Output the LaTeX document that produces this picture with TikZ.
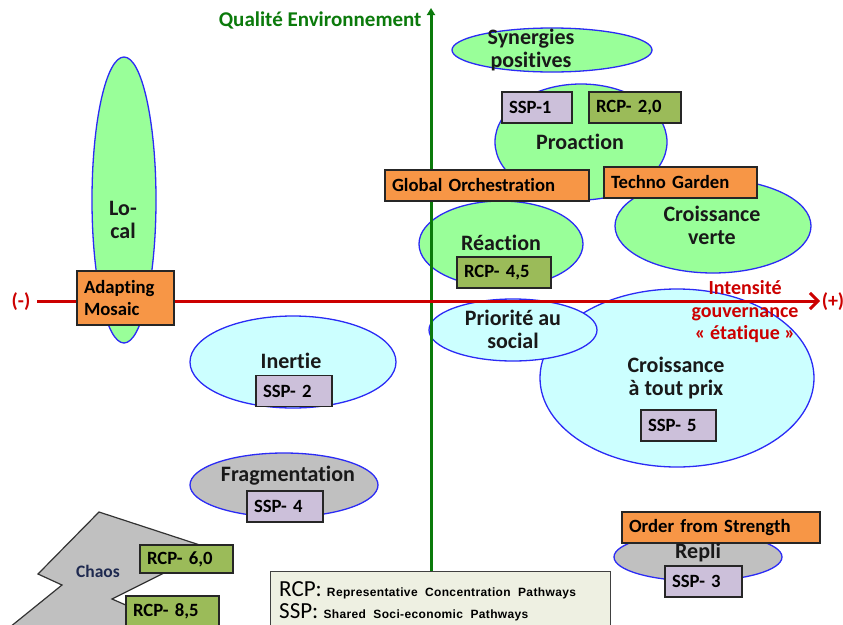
\documentclass[tikz,border=0pt]{standalone}
\usepackage{fontspec}
\setmainfont{Carlito}[Ligatures=NoCommon]
\newfontfamily\legendsans{Liberation Sans}[LetterSpace=3]
\usetikzlibrary{shapes.geometric,arrows.meta}

\definecolor{leafgreen}{HTML}{99FF99}
\definecolor{palecyan}{HTML}{CCFFFF}
\definecolor{fogray}{HTML}{C0C0C0}
\definecolor{rimblue}{HTML}{2B2BF5}
\definecolor{boxorange}{HTML}{F79646}
\definecolor{boxolive}{HTML}{9BBB59}
\definecolor{boxlilac}{HTML}{CCC0DA}
\definecolor{axisgreen}{HTML}{0B7A0B}
\definecolor{axisred}{HTML}{CC0000}
\definecolor{legendfill}{HTML}{EEF0E2}
\definecolor{chaosink}{HTML}{1F2A50}

\begin{document}
\begin{tikzpicture}[x=1pt,y=-1pt,
  zone/.style={ellipse, draw=rimblue, line width=1.3pt, inner sep=0pt},
  greenzone/.style={zone, fill=leafgreen},
  cyanzone/.style={zone, fill=palecyan},
  grayzone/.style={zone, fill=fogray},
  zonetext/.style={font=\fontsize{22}{23}\selectfont\bfseries, align=center, text=black!90},
  tag/.style={draw=black!85, line width=1.4pt, inner xsep=7pt, inner ysep=0pt,
    font=\fontsize{18.7}{22.5}\selectfont\bfseries, align=left, minimum height=31pt},
  orangetag/.style={tag, fill=boxorange},
  olivetag/.style={tag, fill=boxolive},
  lilactag/.style={tag, fill=boxlilac},
  axisline/.style={line width=3pt},
  axislabel/.style={text=axisred, font=\fontsize{20}{22.5}\selectfont\bfseries},
  legendline/.style={anchor=base west, inner sep=0pt, font=\fontsize{23}{24}\selectfont},
]
\clip (0,0) rectangle (843,624);

% ---- scenario zones ----
\node[greenzone, minimum width=64pt,  minimum height=286pt] (localz) at (124,200) {};
\node[greenzone, minimum width=200pt, minimum height=44pt]  (synz)   at (552,50)  {};
\node[greenzone, minimum width=172pt, minimum height=116pt] (proz)   at (581,142) {};
\node[greenzone, minimum width=196pt, minimum height=94pt]  (vertz)  at (713,226) {};
\node[greenzone, minimum width=164pt, minimum height=86pt]  (reacz)  at (501,244) {};
\node[cyanzone,  minimum width=274pt, minimum height=178pt] (prixz)  at (677,378) {};
\node[cyanzone,  minimum width=168pt, minimum height=62pt]  (socz)   at (513,330) {};
\node[cyanzone,  minimum width=206pt, minimum height=92pt]  (inerz)  at (293,362) {};
\node[grayzone,  minimum width=188pt, minimum height=64pt]  (fragz)  at (284,485) {};
\node[grayzone,  minimum width=168pt, minimum height=48pt]  (repz)   at (698,557) {};

% ---- chaos bolt ----
\draw[fill=fogray, draw=black!80, line width=1.2pt]
  (99,512) -- (212,549) -- (112,599) -- (128,606) -- (160,640)
  -- (-6,640) -- (62,585) -- (38,574) -- cycle;

% ---- axes ----
\coordinate (ybot) at (431,571);
\coordinate (ytop) at (431,8);
\coordinate (xlft) at (37,301);
\coordinate (xrgt) at (820,301);
\draw[axisline, draw=axisgreen, -{Triangle[length=7pt,width=8pt]}] (ybot) -- (ytop);
\draw[axisline, draw=axisred, -{Straight Barb[length=8pt,width=16pt,line width=3pt]}] (xlft) -- (xrgt);

\node[anchor=east, text=axisgreen, font=\fontsize{21}{22}\selectfont\bfseries] (ytitle) at (425,20) {Qualité Environnement};
\node[axislabel] (xminus) at (21,302) {(-)};
\node[axislabel] (xplus) at (833,302) {(+)};

% ---- pathway tags ----
\node[lilactag,  text width=56pt]  (ssp1)  at (537,107.5) {SSP-1};
\node[olivetag,  text width=78pt]  (rcp20) at (635,107.5) {RCP- 2,0};
\node[orangetag, text width=190pt] (glob)  at (487,185.5) {Global Orchestration};
\node[orangetag, text width=139pt] (techno) at (680.5,182.5) {Techno Garden};
\node[olivetag,  text width=80pt]  (rcp45) at (504,272.5) {RCP- 4,5};
\node[orangetag, text width=83pt, minimum height=54pt] (adapt) at (125.5,298) {Adapting\\Mosaic};
\node[lilactag,  text width=62pt]  (ssp2)  at (294,391) {SSP- 2};
\node[lilactag,  text width=61pt]  (ssp5)  at (678.5,425.5) {SSP- 5};
\node[lilactag,  text width=62pt]  (ssp4)  at (285,506.5) {SSP- 4};
\node[orangetag, text width=184pt] (order) at (721,527.5) {Order from Strength};
\node[lilactag,  text width=63pt]  (ssp3)  at (703.5,581.5) {SSP- 3};
\node[olivetag,  text width=79pt, minimum height=28pt] (rcp60) at (186.5,559) {RCP- 6,0};
\node[olivetag,  text width=79pt, minimum height=34pt, text depth=6pt] (rcp85) at (172.5,613) {RCP- 8,5};

% ---- zone labels ----
\node[zonetext] (localt) at (123,220) {Lo-\\cal};
\node[zonetext] (synt)   at (531,50)  {Synergies\\positives};
\node[zonetext] (prot)   at (580,142) {Proaction};
\node[zonetext] (vertt)  at (712,225) {Croissance\\verte};
\node[zonetext] (react)  at (501,243) {Réaction};
\node[zonetext] (soct)   at (513,329) {Priorité au\\social};
\node[zonetext] (prixt)  at (676,378) {Croissance\\à tout prix};
\node[zonetext] (inert)  at (291,361) {Inertie};
\node[zonetext] (fragt)  at (288,476) {Fragmentation};
\node[zonetext] (rept)   at (698,553) {Repli};
\node[text=chaosink, font=\fontsize{17.5}{18}\selectfont\bfseries] (chaost) at (98,571) {Chaos};

\node[axislabel, align=center] (xtitle) at (745,312)
  {Intensité\\gouvernance\\« étatique »};

% ---- legend ----
\node[draw=black!75, line width=1.2pt, fill=legendfill, anchor=north west,
      minimum width=340pt, minimum height=70pt] (legend) at (270,571) {};
\node[legendline] (legendrcp) at (279,596)
  {RCP: {\legendsans\fontsize{12}{14}\selectfont\bfseries Representative\ \ Concentration\ \ Pathways}};
\node[legendline] (legendssp) at (279,618)
  {SSP: {\legendsans\fontsize{12}{14}\selectfont\bfseries Shared\ \ Soci-economic\ \ Pathways}};
\end{tikzpicture}
\end{document}
